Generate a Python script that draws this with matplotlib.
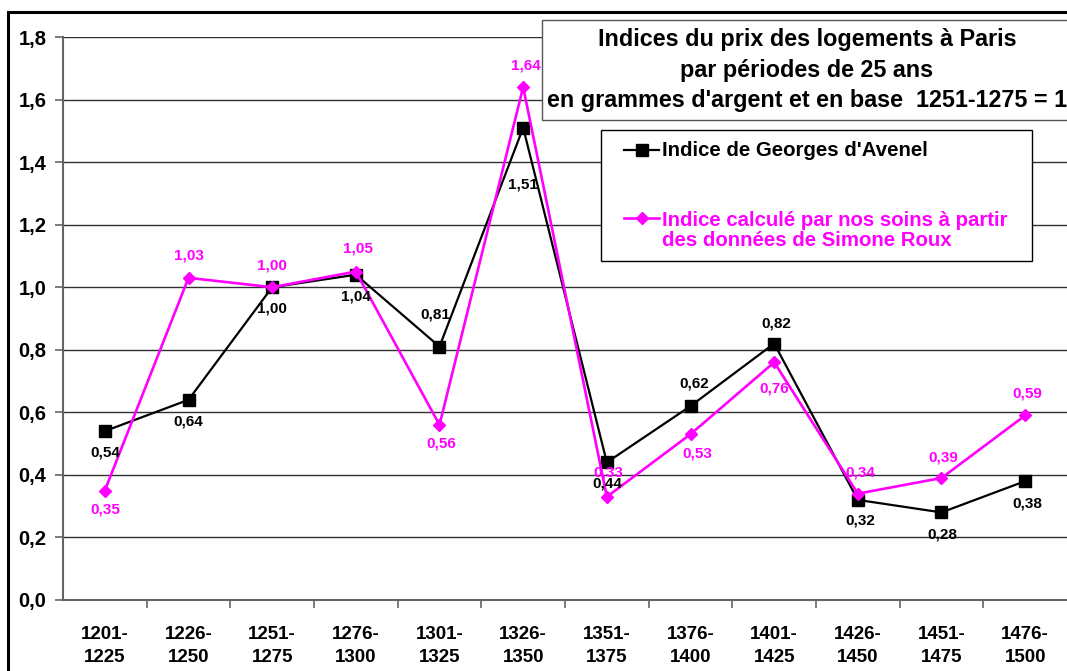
import numpy as np
import matplotlib
matplotlib.use("Agg")
from matplotlib import pyplot as plt
from matplotlib.patches import Rectangle
from matplotlib.lines import Line2D

plt.rcParams['font.family'] = ['Liberation Sans', 'DejaVu Sans']
plt.rcParams['font.weight'] = 'bold'

periods = ['1201-\n1225', '1226-\n1250', '1251-\n1275', '1276-\n1300',
           '1301-\n1325', '1326-\n1350', '1351-\n1375', '1376-\n1400',
           '1401-\n1425', '1426-\n1450', '1451-\n1475', '1476-\n1500']
avenel = [0.54, 0.64, 1.00, 1.04, 0.81, 1.51, 0.44, 0.62, 0.82, 0.32, 0.28, 0.38]
roux = [0.35, 1.03, 1.00, 1.05, 0.56, 1.64, 0.33, 0.53, 0.76, 0.34, 0.39, 0.59]

# label offsets in pixels (dx, dy), dy positive = up
avenel_off = [(0, -21), (0, -22), (0, -21), (0, -22), (-4, 32), (0, -57),
              (0, -21), (4, 23), (2, 20), (2, -21), (1, -22), (2, -22)]
roux_off = [(0, -19), (0, 22), (0, 22), (2, 23), (2, -19), (3, 22),
            (1, 24), (7, -19), (0, -26), (2, 21), (2, 21), (2, 22)]

W, H = 1067, 671
fig = plt.figure(figsize=(W / 100, H / 100), dpi=100)
fig.patch.set_facecolor('white')

def fx(px):
    return px / W

def fy(py):
    return 1 - py / H

ax = fig.add_axes([fx(63), fy(600), fx(1067) - fx(63), fy(37) - fy(600)])
x = np.arange(len(periods))

ax.set_xlim(-0.5, 11.5)
ax.set_ylim(0, 1.8)
ax.set_yticks(np.arange(0, 1.81, 0.2))
ax.set_yticklabels([f"{v:.1f}".replace('.', ',') for v in np.arange(0, 1.81, 0.2)],
                   fontsize=14.5, fontweight='bold')
ax.set_xticks(x)
ax.set_xticklabels(periods, fontsize=13.5, fontweight='bold', linespacing=1.45)
ax.set_xticks(np.arange(0.5, 11.5, 1), minor=True)
ax.tick_params(axis='x', which='major', length=0, pad=19)
ax.tick_params(axis='x', which='minor', length=6, color='#666666', width=1.2)
ax.tick_params(axis='y', length=6, color='#666666', width=1.2, pad=6)
ax.yaxis.grid(True, color='#303030', lw=1.0)
ax.set_axisbelow(True)
for s in ['top', 'right']:
    ax.spines[s].set_visible(False)
for s in ['left', 'bottom']:
    ax.spines[s].set_color('#666666')
    ax.spines[s].set_linewidth(1.5)

ax.plot(x, avenel, color='black', lw=1.6, marker='s', ms=8, zorder=3)
ax.plot(x, roux, color='#FF00FF', lw=1.9, marker='D', ms=6.5, zorder=4)

for xi, v, (dx, dy) in zip(x, avenel, avenel_off):
    ax.annotate(f"{v:.2f}".replace('.', ','), (xi, v), xytext=(dx, dy),
                textcoords='offset pixels', ha='center', va='center',
                fontsize=11, fontweight='bold', color='black', zorder=5)
for xi, v, (dx, dy) in zip(x, roux, roux_off):
    ax.annotate(f"{v:.2f}".replace('.', ','), (xi, v), xytext=(dx, dy),
                textcoords='offset pixels', ha='center', va='center',
                fontsize=11, fontweight='bold', color='#FF00FF', zorder=5)

# outer border
fig.add_artist(Rectangle((fx(8), fy(700)), fx(1100) - fx(8), fy(12) - fy(700),
                         transform=fig.transFigure, fill=False, ec='black', lw=2.2))

# title box
fig.add_artist(Rectangle((fx(542), fy(120)), fx(1075) - fx(542), fy(20) - fy(120),
                         transform=fig.transFigure, fc='white', ec='#555555', lw=1.0))
fig.text(fx(807), fy(70),
         "Indices du prix des logements à Paris\npar périodes de 25 ans\n"
         "en grammes d'argent et en base  1251-1275 = 1",
         ha='center', va='center', fontsize=16.8, fontweight='bold', linespacing=1.4)

# legend box
fig.add_artist(Rectangle((fx(601), fy(261)), fx(1032) - fx(601), fy(130) - fy(261),
                         transform=fig.transFigure, fc='white', ec='black', lw=1.0))
fig.add_artist(Line2D([fx(624), fx(641.5), fx(659)], [fy(150)] * 3, transform=fig.transFigure,
                      color='black', lw=1.6, marker='s', ms=8, markevery=[1]))
fig.text(fx(662), fy(150), "Indice de Georges d'Avenel", ha='left', va='center',
         fontsize=14.7, fontweight='bold', color='black')
fig.add_artist(Line2D([fx(624), fx(641.5), fx(659)], [fy(218)] * 3, transform=fig.transFigure,
                      color='#FF00FF', lw=1.9, marker='D', ms=6.5, markevery=[1]))
fig.text(fx(662), fy(230.5), "Indice calculé par nos soins à partir\ndes données de Simone Roux",
         ha='left', va='center', fontsize=14.7, fontweight='bold', color='#FF00FF',
         linespacing=1.1)

fig.savefig('out.png', dpi=100)
